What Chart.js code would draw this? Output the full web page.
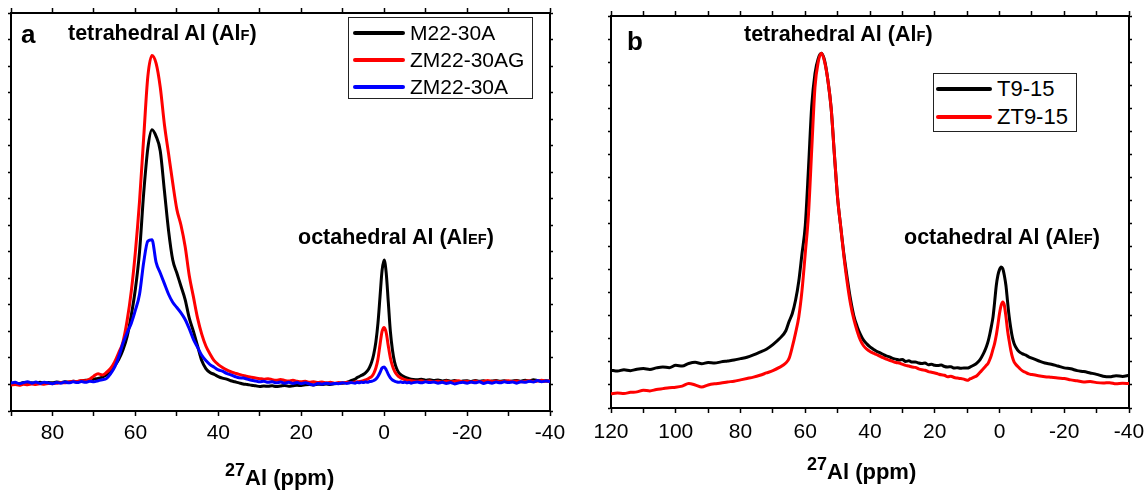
<!DOCTYPE html>
<html>
<head>
<meta charset="utf-8">
<title>27Al MAS NMR</title>
<script src="https://cdn.jsdelivr.net/npm/chart.js@4.4.1/dist/chart.umd.min.js"></script>
<style>
    body { margin: 0; width: 1145px; height: 493px; overflow: hidden; background: #fff; font-family: "Liberation Sans", Arial, sans-serif; }
    .panel { position: absolute; top: 0; height: 493px; }
    .lbl { position: absolute; white-space: nowrap; line-height: 1; font-weight: bold; color: #000; }
    .sc { font-size: 0.68em; }
    .legend { position: absolute; border: 1.5px solid #222; background: #fff; box-sizing: border-box; }
    .legend .row { position: absolute; display: flex; align-items: center; height: 26px; white-space: nowrap; }
    .legend .swatch { display: inline-block; height: 4px; border-radius: 2px; }
    .legend .txt { margin-left: 5px; color: #000; }
</style>
</head>
<body>
<div class="panel" style="left:0;width:572px"><canvas id="chartA"></canvas></div>
<div class="panel" style="left:572px;width:573px"><canvas id="chartB"></canvas></div>

<div class="lbl" style="left:21px;top:21px;font-size:26px">a</div>
<div class="lbl" style="left:68px;top:23px;font-size:21.5px">tetrahedral Al (Al<span class="sc">F</span>)</div>
<div class="lbl" style="left:298px;top:227px;font-size:21.5px">octahedral Al (Al<span class="sc">EF</span>)</div>
<div class="lbl" style="left:225px;top:467px;font-size:22px"><span style="font-size:18px;position:relative;top:-9px">27</span>Al (ppm)</div>

<div class="lbl" style="left:627px;top:28px;font-size:26px">b</div>
<div class="lbl" style="left:744px;top:24px;font-size:21.5px">tetrahedral Al (Al<span class="sc">F</span>)</div>
<div class="lbl" style="left:904px;top:227px;font-size:21.5px">octahedral Al (Al<span class="sc">EF</span>)</div>
<div class="lbl" style="left:807px;top:461px;font-size:22px"><span style="font-size:18px;position:relative;top:-9px">27</span>Al (ppm)</div>

<div class="legend" id="legA" style="left:348px;top:17px;width:185px;height:82px"></div>
<div class="legend" id="legB" style="left:933px;top:73px;width:144px;height:59px"></div>

<script>
// panel a: chemical shift (ppm) and intensities
const ppmA = [
    90, 89, 88, 87, 86, 85, 84, 83, 82, 81,
    80, 79, 78, 77, 76, 75, 74, 73, 72, 71,
    70, 69, 68, 67, 66, 65, 64, 63, 62, 61,
    60, 59, 58, 57, 56, 55, 54, 53, 52, 51,
    50, 49, 48, 47, 46, 45, 44, 43, 42, 41,
    40, 39, 38, 37, 36, 35, 34, 33, 32, 31,
    30, 29, 28, 27, 26, 25, 24, 23, 22, 21,
    20, 19, 18, 17, 16, 15, 14, 13, 12, 11,
    10, 9, 8,
    7, 6.5, 6, 5.5, 5, 4.5, 4, 3.5, 3, 2.5,
    2, 1.5, 1, 0.5, 0, -0.5, -1, -1.5, -2, -2.5,
    -3, -3.5, -4, -4.5, -5, -5.5, -6, -6.5, -7,
    -8, -9, -10, -11, -12, -13, -14, -15, -16, -17,
    -18, -19, -20, -21, -22, -23, -24, -25, -26, -27,
    -28, -29, -30, -31, -32, -33, -34, -35, -36, -37,
    -38, -39, -40
];
const m22_30A = [
    1.02, 1.05, 1.03, 1.07, 1.04, 1.06, 1.03, 1.08, 1.05, 1.07,
    1.06, 1.09, 1.07, 1.10, 1.08, 1.12, 1.10, 1.14, 1.16, 1.15,
    1.20, 1.23, 1.28, 1.36, 1.50, 1.70, 1.95, 2.30, 2.80, 3.60,
    4.60, 6.00, 8.20, 9.90, 10.60, 10.35, 9.80, 8.30, 6.80, 5.70,
    5.20, 4.70, 4.20, 3.50, 3.00, 2.45, 1.90, 1.60, 1.45, 1.38,
    1.30, 1.24, 1.20, 1.14, 1.10, 1.06, 1.02, 1.00, 0.97, 0.95,
    0.92, 0.94, 0.93, 0.95, 0.92, 0.94, 0.96, 0.93, 0.95, 0.97,
    0.96, 0.99, 1.00, 0.98, 1.01, 1.00, 1.02, 1.00, 1.03, 1.04,
    1.05, 1.08, 1.14,
    1.20, 1.26, 1.30, 1.34, 1.38, 1.44, 1.52, 1.65, 1.85, 2.15,
    2.60, 3.30, 4.30, 5.30, 5.69, 5.20, 4.10, 3.00, 2.30, 1.85,
    1.60, 1.45, 1.37, 1.32, 1.28, 1.25, 1.22, 1.20, 1.19,
    1.18, 1.20, 1.16, 1.18, 1.15, 1.17, 1.13, 1.16, 1.12, 1.15,
    1.10, 1.13, 1.14, 1.11, 1.15, 1.12, 1.14, 1.10, 1.13, 1.15,
    1.12, 1.14, 1.11, 1.13, 1.15, 1.12, 1.16, 1.13, 1.18, 1.15,
    1.12, 1.14, 1.13
];
const zm22_30AG = [
    0.98, 1.00, 0.97, 1.01, 0.99, 1.02, 1.00, 1.03, 1.01, 1.04,
    1.03, 1.05, 1.07, 1.06, 1.10, 1.12, 1.11, 1.15, 1.14, 1.20,
    1.32, 1.40, 1.36, 1.45, 1.60, 1.85, 2.20, 2.60, 3.40, 4.50,
    6.00, 7.90, 10.30, 12.60, 13.40, 13.10, 12.20, 10.80, 9.70, 8.60,
    7.60, 7.00, 6.20, 5.10, 4.30, 3.50, 2.90, 2.45, 2.15, 1.90,
    1.75, 1.64, 1.55, 1.48, 1.43, 1.38, 1.34, 1.30, 1.27, 1.24,
    1.22, 1.20, 1.22, 1.18, 1.16, 1.19, 1.15, 1.13, 1.16, 1.12,
    1.10, 1.12, 1.08, 1.10, 1.07, 1.09, 1.06, 1.08, 1.05, 1.07,
    1.06, 1.08, 1.07,
    1.09, 1.10, 1.11, 1.12, 1.14, 1.17, 1.20, 1.25, 1.30, 1.42,
    1.62, 1.95, 2.50, 3.00, 3.15, 2.95, 2.45, 2.00, 1.70, 1.50,
    1.38, 1.30, 1.25, 1.21, 1.18, 1.16, 1.15, 1.14, 1.13,
    1.12, 1.14, 1.11, 1.13, 1.10, 1.12, 1.09, 1.13, 1.10, 1.12,
    1.14, 1.10, 1.12, 1.09, 1.13, 1.10, 1.12, 1.15, 1.11, 1.13,
    1.10, 1.12, 1.14, 1.11, 1.13, 1.10, 1.12, 1.14, 1.11, 1.13,
    1.16, 1.12, 1.14
];
const zm22_30A = [
    1.05, 1.08, 1.03, 1.07, 1.10, 1.05, 1.09, 1.04, 1.08, 1.06,
    1.03, 1.07, 1.05, 1.09, 1.06, 1.10, 1.07, 1.11, 1.08, 1.12,
    1.10, 1.14, 1.18, 1.22, 1.40, 1.65, 2.05, 2.55, 2.95, 3.30,
    3.80, 4.40, 5.60, 6.40, 6.45, 5.60, 5.20, 4.80, 4.40, 4.10,
    3.90, 3.70, 3.45, 3.10, 2.70, 2.40, 2.10, 1.90, 1.75, 1.65,
    1.55, 1.50, 1.42, 1.36, 1.30, 1.25, 1.24, 1.20, 1.16, 1.13,
    1.10, 1.12, 1.08, 1.10, 1.06, 1.09, 1.05, 1.08, 1.04, 1.07,
    1.03, 1.06, 1.02, 0.98, 1.04, 1.01, 1.05, 1.02, 1.04, 1.03,
    1.06, 1.04, 1.07,
    1.05, 1.08, 1.06, 1.09, 1.07, 1.10, 1.08, 1.11, 1.12, 1.15,
    1.20, 1.30, 1.45, 1.62, 1.66, 1.55, 1.38, 1.25, 1.17, 1.13,
    1.10, 1.08, 1.10, 1.07, 1.09, 1.06, 1.08, 1.05, 1.07,
    1.09, 1.06, 1.10, 1.07, 1.09, 1.05, 1.08, 1.04, 1.07, 1.02,
    1.06, 1.08, 1.05, 1.09, 1.06, 1.10, 1.04, 1.08, 1.05, 1.09,
    1.06, 1.10, 1.07, 1.09, 1.05, 1.10, 1.08, 1.12, 1.09, 1.15,
    1.10, 1.13, 1.11
];

// panel b
const ppmB = [
    120, 118, 116, 114, 112, 110, 108, 106, 104, 102,
    100, 98, 96, 94, 92, 90, 88, 86, 84, 82,
    80, 78, 76, 74, 72, 70, 68, 66,
    65, 64, 63, 62, 61, 60, 59, 58, 57, 56,
    55, 54, 53, 52, 51, 50, 49, 48, 47, 46,
    45, 44, 43, 42, 41, 40, 39, 38, 37, 36,
    35, 34, 33, 32, 31, 30, 29, 28, 27, 26,
    25, 24, 23, 22, 21, 20, 19, 18, 17, 16,
    15, 14, 13, 12, 11, 10, 9, 8, 7, 6,
    5,
    4.5, 4, 3.5, 3, 2.5, 2, 1.5, 1, 0.5, 0,
    -0.5, -1, -1.5, -2, -2.5, -3, -3.5, -4, -4.5, -5,
    -6, -7, -8, -9, -10,
    -12, -14, -16, -18, -20, -22, -24, -26, -28, -30,
    -32, -34, -36, -38, -40
];
const t9_15 = [
    1.64, 1.60, 1.66, 1.62, 1.68, 1.71, 1.67, 1.74, 1.78, 1.75,
    1.85, 1.82, 1.93, 1.98, 1.92, 1.97, 1.95, 2.00, 2.04, 2.08,
    2.14, 2.20, 2.30, 2.42, 2.55, 2.75, 3.00, 3.35,
    3.75, 4.10, 4.67, 5.50, 6.70, 7.90, 10.40, 13.10, 14.50, 15.15,
    15.38, 15.05, 14.20, 13.00, 11.00, 9.10, 7.80, 6.60, 5.60, 4.70,
    4.00, 3.55, 3.20, 2.94, 2.78, 2.65, 2.55, 2.46, 2.40, 2.33,
    2.26, 2.22, 2.15, 2.12, 2.08, 2.10, 2.02, 2.05, 1.99, 2.00,
    1.95, 1.93, 1.95, 1.88, 1.90, 1.85, 1.84, 1.86, 1.80, 1.78,
    1.79, 1.73, 1.75, 1.72, 1.74, 1.73, 1.78, 1.85, 1.95, 2.10,
    2.35,
    2.50, 2.68, 2.90, 3.20, 3.55, 3.95, 4.60, 5.30, 5.75, 6.00,
    6.12, 6.05, 5.75, 5.30, 4.60, 3.95, 3.45, 3.05, 2.80, 2.65,
    2.45, 2.36, 2.30, 2.22, 2.16,
    2.05, 1.95, 1.90, 1.82, 1.74, 1.70, 1.62, 1.58, 1.52, 1.46,
    1.38, 1.35, 1.40, 1.37, 1.42
];
const zt9_15 = [
    0.62, 0.65, 0.63, 0.68, 0.70, 0.77, 0.74, 0.80, 0.84, 0.88,
    0.90, 0.95, 1.06, 1.00, 0.91, 1.00, 1.05, 1.08, 1.13, 1.16,
    1.22, 1.28, 1.34, 1.42, 1.52, 1.62, 1.76, 1.95,
    2.15, 2.65, 3.25, 3.95, 5.10, 6.70, 8.40, 11.20, 13.90, 15.00,
    15.38, 15.00, 14.20, 13.00, 11.00, 9.10, 7.80, 6.50, 5.40, 4.50,
    3.85, 3.35, 2.95, 2.70, 2.55, 2.45, 2.38, 2.32, 2.25, 2.18,
    2.12, 2.07, 2.02, 1.97, 1.95, 1.90, 1.85, 1.82, 1.78, 1.76,
    1.70, 1.66, 1.64, 1.58, 1.55, 1.52, 1.48, 1.44, 1.42, 1.35,
    1.38, 1.32, 1.30, 1.28, 1.25, 1.20, 1.27, 1.33, 1.40, 1.55,
    1.70,
    1.78, 1.86, 1.94, 2.10, 2.30, 2.55, 2.80, 3.15, 3.60, 4.10,
    4.45, 4.60, 4.45, 3.95, 3.35, 2.90, 2.50, 2.20, 2.00, 1.90,
    1.75, 1.62, 1.55, 1.48, 1.45,
    1.40, 1.36, 1.33, 1.30, 1.28, 1.22, 1.18, 1.13, 1.15, 1.10,
    1.08, 1.10, 1.05, 1.07, 1.06
];

const labelsA = ['M22-30A', 'ZM22-30AG', 'ZM22-30A'];
const colorsA = ['#000000', '#ff0000', '#0000ff'];
const labelsB = ['T9-15', 'ZT9-15'];
const colorsB = ['#000000', '#ff0000'];

const FONT = '"Liberation Sans", Arial, sans-serif';

function points(xs, ys) {
    return xs.map((x, i) => ({ x: x, y: ys[i] }));
}

function lineSet(label, color, xs, ys, order) {
    return {
        label: label,
        data: points(xs, ys),
        borderColor: color,
        backgroundColor: color,
        borderWidth: 3,
        pointRadius: 0,
        cubicInterpolationMode: 'monotone',
        borderJoinStyle: 'round',
        order: order
    };
}

function xScale(min, max, position, labelPad) {
    const withLabels = position === 'bottom';
    return {
        type: 'linear',
        position: position,
        min: min,
        max: max,
        reverse: true,
        ticks: {
            display: withLabels,
            stepSize: 10,
            autoSkip: false,
            maxRotation: 0,
            padding: labelPad,
            color: '#000',
            font: { family: FONT, size: 21 },
            callback: v => (v % 20 === 0 ? String(v) : '')
        },
        grid: { drawOnChartArea: false, drawTicks: true, tickLength: 5, tickColor: '#000', tickWidth: 1.5 },
        border: { display: true, color: '#000', width: 2 },
        afterFit: s => {
            s.height = withLabels ? 40 : 4;
            s.paddingLeft = 0;
            s.paddingRight = 0;
        }
    };
}

function yScale(max, position) {
    return {
        type: 'linear',
        position: position,
        min: 0,
        max: max,
        ticks: { display: false, stepSize: 1 },
        grid: { drawOnChartArea: false, drawTicks: true, tickLength: 3, tickColor: '#000', tickWidth: 1.5 },
        border: { display: true, color: '#000', width: 2 },
        afterFit: s => { s.width = 3; }
    };
}

function makeChart(id, datasets, xmin, xmax, ymax, padding, labelPad) {
    return new Chart(document.getElementById(id), {
        type: 'line',
        data: { datasets: datasets },
        options: {
            responsive: true,
            maintainAspectRatio: false,
            animation: false,
            events: [],
            layout: { padding: padding },
            plugins: { legend: { display: false }, tooltip: { enabled: false } },
            scales: {
                x: xScale(xmin, xmax, 'bottom', labelPad),
                x2: xScale(xmin, xmax, 'top', 0),
                y: yScale(ymax, 'left'),
                y2: yScale(ymax, 'right')
            }
        }
    });
}

function buildLegend(id, labels, colors, rows, sampleLeft, sampleWidth, fontSize) {
    const box = document.getElementById(id);
    labels.forEach((name, i) => {
        const row = document.createElement('div');
        row.className = 'row';
        row.style.left = sampleLeft + 'px';
        row.style.top = (rows[i] - 13) + 'px';
        row.style.fontSize = fontSize + 'px';
        row.innerHTML = '<span class="swatch" style="width:' + sampleWidth + 'px;background:' + colors[i] + '"></span>' +
            '<span class="txt">' + name + '</span>';
        box.appendChild(row);
    });
}

makeChart('chartA', [
    lineSet(labelsA[0], colorsA[0], ppmA, m22_30A, 2),
    lineSet(labelsA[1], colorsA[1], ppmA, zm22_30AG, 1),
    lineSet(labelsA[2], colorsA[2], ppmA, zm22_30A, 0)
], -40, 90, 15, { left: 8, right: 19, top: 9, bottom: 42 }, 5);

makeChart('chartB', [
    lineSet(labelsB[0], colorsB[0], ppmB, t9_15, 1),
    lineSet(labelsB[1], colorsB[1], ppmB, zt9_15, 0)
], -40, 120, 17, { left: 36, right: 13, top: 12, bottom: 45 }, 7);

buildLegend('legA', labelsA, colorsA, [15, 42, 69], 4, 52, 21);
buildLegend('legB', labelsB, colorsB, [15, 43], 2, 56, 22);
</script>
</body>
</html>
